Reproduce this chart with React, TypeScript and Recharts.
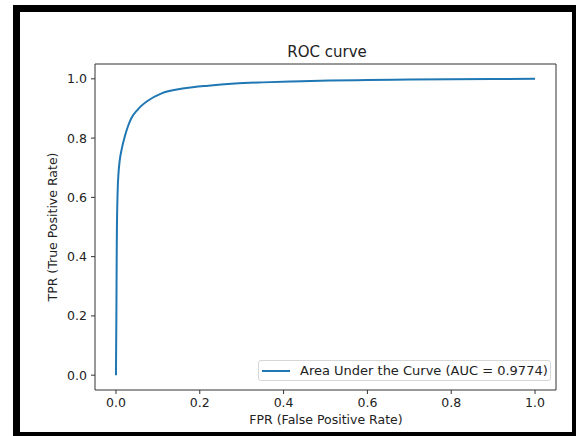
import { LineChart, Line, XAxis, YAxis, ReferenceArea, Legend } from 'recharts';

// ROC curve (FPR -> TPR)
const fpr = [0, 0.001, 0.002, 0.004, 0.006, 0.009, 0.0136, 0.0214, 0.03, 0.037, 0.053, 0.077, 0.109, 0.164, 0.22, 0.284, 0.35, 0.42, 0.51, 0.6, 0.7, 0.8, 0.9, 1.0];
const tpr = [0, 0.2, 0.45, 0.62, 0.68, 0.725, 0.762, 0.807, 0.845, 0.868, 0.898, 0.927, 0.951, 0.968, 0.977, 0.984, 0.988, 0.991, 0.994, 0.996, 0.9975, 0.9985, 0.9993, 1.0];
const axisTicks = [0, 0.2, 0.4, 0.6, 0.8, 1.0];
const seriesName = 'Area Under the Curve (AUC = 0.9774)';

const data = fpr.map((x, i) => ({ fpr: x, tpr: tpr[i] }));

const FONT = '"DejaVu Sans", sans-serif';
const TEXT = '#222';

const LegendBox = ({ payload }: any) => (
  <div
    style={{
      display: 'flex',
      alignItems: 'center',
      width: 293,
      height: 21,
      boxSizing: 'border-box',
      border: '1px solid #d6d6d6',
      borderRadius: 3,
      background: '#fff',
      fontFamily: FONT,
      fontSize: 13,
      color: TEXT,
      paddingLeft: 3,
      whiteSpace: 'nowrap',
    }}
  >
    {(payload || []).map((p: any) => (
      <span key={p.value} style={{ display: 'flex', alignItems: 'center' }}>
        <span style={{ display: 'inline-block', width: 28, height: 2, background: p.color, marginRight: 10 }} />
        {p.value}
      </span>
    ))}
  </div>
);

export default function App() {
  return (
    <div style={{ position: 'absolute', left: 0, top: 0, width: 576, height: 436, overflow: 'hidden', background: '#fff' }}>
      {/* black frame around the figure */}
      <div
        style={{
          position: 'absolute',
          left: 13,
          top: 5,
          width: 566,
          height: 434,
          border: '7px solid #000',
          boxSizing: 'border-box',
        }}
      />
      <div style={{ position: 'absolute', left: 0, top: 0 }}>
        <LineChart width={576} height={436} data={data} margin={{ top: 64, right: 20, left: 55, bottom: 16 }}>
          <XAxis
            dataKey="fpr"
            type="number"
            domain={[-0.05, 1.05]}
            ticks={axisTicks}
            allowDataOverflow
            height={30}
            axisLine={false}
            tickSize={4}
            tickMargin={4}
            tickLine={{ stroke: '#333' }}
            tick={{ fill: TEXT, fontSize: 12.5, fontFamily: FONT }}
            tickFormatter={(v: number) => v.toFixed(1)}
          />
          <YAxis
            type="number"
            domain={[-0.05, 1.05]}
            ticks={axisTicks}
            allowDataOverflow
            width={40}
            axisLine={false}
            tickSize={4}
            tickMargin={4}
            tickLine={{ stroke: '#333' }}
            tick={{ fill: TEXT, fontSize: 12.5, fontFamily: FONT }}
            tickFormatter={(v: number) => v.toFixed(1)}
          />
          <ReferenceArea x1={-0.05} x2={1.05} y1={-0.05} y2={1.05} fill="none" fillOpacity={0} stroke="#333" strokeWidth={1} />
          <Line
            dataKey="tpr"
            name={seriesName}
            type="monotone"
            stroke="#1f77b4"
            strokeWidth={2}
            dot={false}
            isAnimationActive={false}
          />
          <Legend
            layout="horizontal"
            verticalAlign="middle"
            align="center"
            content={<LegendBox />}
            wrapperStyle={{ position: 'absolute', left: 258, top: 360, width: 293, height: 21 }}
          />
        </LineChart>
      </div>
      <div style={{ position: 'absolute', left: 0, width: 576 + 78, top: 43, textAlign: 'center', fontFamily: FONT, fontSize: 15, color: TEXT }}>
        ROC curve
      </div>
      <div style={{ position: 'absolute', left: 0, width: 576 + 76, top: 412, textAlign: 'center', fontFamily: FONT, fontSize: 12.5, color: TEXT }}>
        FPR (False Positive Rate)
      </div>
      <div
        style={{
          position: 'absolute',
          left: 52,
          top: 227,
          transform: 'translate(-50%, -50%) rotate(-90deg)',
          whiteSpace: 'nowrap',
          fontFamily: FONT,
          fontSize: 12.5,
          color: TEXT,
        }}
      >
        TPR (True Positive Rate)
      </div>
    </div>
  );
}
